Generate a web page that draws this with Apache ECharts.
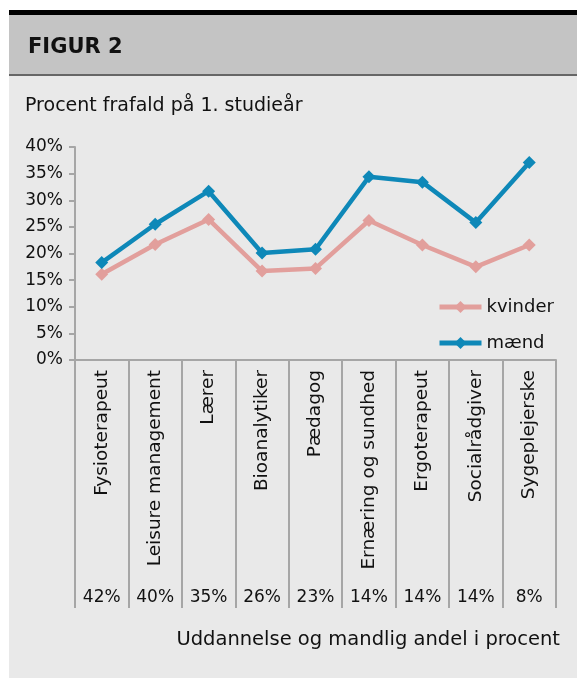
<!DOCTYPE html>
<html>
<head>
<meta charset="utf-8">
<script src="https://cdn.jsdelivr.net/npm/echarts@6/dist/echarts.min.js"></script>
<style>
html,body{margin:0;padding:0;background:#fff;}
#c{width:577px;height:678px;}
</style>
</head>
<body>
<div id="c"></div>
<script>
var categories = ['Fysioterapeut','Leisure management','Lærer','Bioanalytiker','Pædagog','Ernæring og sundhed','Ergoterapeut','Socialrådgiver','Sygeplejerske'];
var maleShare = ['42%','40%','35%','26%','23%','14%','14%','14%','8%'];
var kvinder = [16.1, 21.7, 26.4, 16.7, 17.2, 26.2, 21.6, 17.5, 21.6];
var maend = [18.3, 25.5, 31.7, 20.1, 20.8, 34.4, 33.4, 25.8, 37.1];
var yTicks = {min: 0, max: 40, interval: 5};

var FONT = 'DejaVu Sans';
var chart = echarts.init(document.getElementById('c'));
chart.setOption({
  backgroundColor: '#ffffff',
  animation: false,
  textStyle: {fontFamily: FONT, color: '#111'},
  graphic: [
    {type: 'rect', z: -10, shape: {x: 9, y: 10, width: 568, height: 5}, style: {fill: '#000'}},
    {type: 'rect', z: -10, shape: {x: 9, y: 15, width: 568, height: 59}, style: {fill: '#c4c4c4'}},
    {type: 'rect', z: -10, shape: {x: 9, y: 74, width: 568, height: 2}, style: {fill: '#666'}},
    {type: 'rect', z: -10, shape: {x: 9, y: 76, width: 568, height: 602}, style: {fill: '#e9e9e9'}},
    {type: 'text', z: 10, left: 28, top: 37, style: {text: 'FIGUR 2', fontFamily: FONT, fontWeight: 'bold', fontSize: 21, fill: '#111'}},
    {type: 'text', z: 10, left: 25, top: 97, style: {text: 'Procent frafald på 1. studieår', fontFamily: FONT, fontSize: 19, fill: '#111'}},
    {type: 'text', z: 10, right: 17, top: 630, style: {text: 'Uddannelse og mandlig andel i procent', fontFamily: FONT, fontSize: 19.5, fill: '#111'}}
  ],
  grid: {left: 75, right: 21, top: 147, bottom: 318, containLabel: false},
  legend: {
    orient: 'vertical', left: 432, top: 293, itemGap: 18, itemWidth: 42, itemHeight: 15,
    lineStyle: {width: 5},
    textStyle: {fontFamily: FONT, fontSize: 18, color: '#111'},
    data: ['kvinder', 'mænd']
  },
  xAxis: [
    {
      type: 'category', data: categories, position: 'bottom', boundaryGap: true,
      axisLine: {lineStyle: {color: '#a6a6a6', width: 2}},
      axisTick: {show: true, length: 248, lineStyle: {color: '#a6a6a6', width: 2}},
      axisLabel: {rotate: 90, margin: 10, fontSize: 18.5, color: '#111', fontFamily: FONT, interval: 0}
    },
    {
      type: 'category', data: maleShare, position: 'bottom', offset: 221, boundaryGap: true,
      axisLine: {show: false}, axisTick: {show: false},
      axisLabel: {margin: 8, fontSize: 17, color: '#111', fontFamily: FONT, interval: 0}
    }
  ],
  yAxis: {
    type: 'value', min: yTicks.min, max: yTicks.max, interval: yTicks.interval,
    axisLine: {show: true, lineStyle: {color: '#a6a6a6', width: 2}},
    axisTick: {show: true, length: 6, lineStyle: {color: '#a6a6a6', width: 2}},
    splitLine: {show: false},
    axisLabel: {formatter: '{value}%', fontSize: 17, color: '#111', fontFamily: FONT, margin: 12}
  },
  series: [
    {
      name: 'kvinder', type: 'line', xAxisIndex: 0, data: kvinder,
      symbol: 'diamond', symbolSize: 13, color: '#e29f9c',
      lineStyle: {width: 4.5, color: '#e29f9c'}, itemStyle: {color: '#e29f9c'}
    },
    {
      name: 'mænd', type: 'line', xAxisIndex: 0, data: maend,
      symbol: 'diamond', symbolSize: 13, color: '#0e88b8',
      lineStyle: {width: 4.5, color: '#0e88b8'}, itemStyle: {color: '#0e88b8'}
    }
  ]
});
</script>
</body>
</html>
